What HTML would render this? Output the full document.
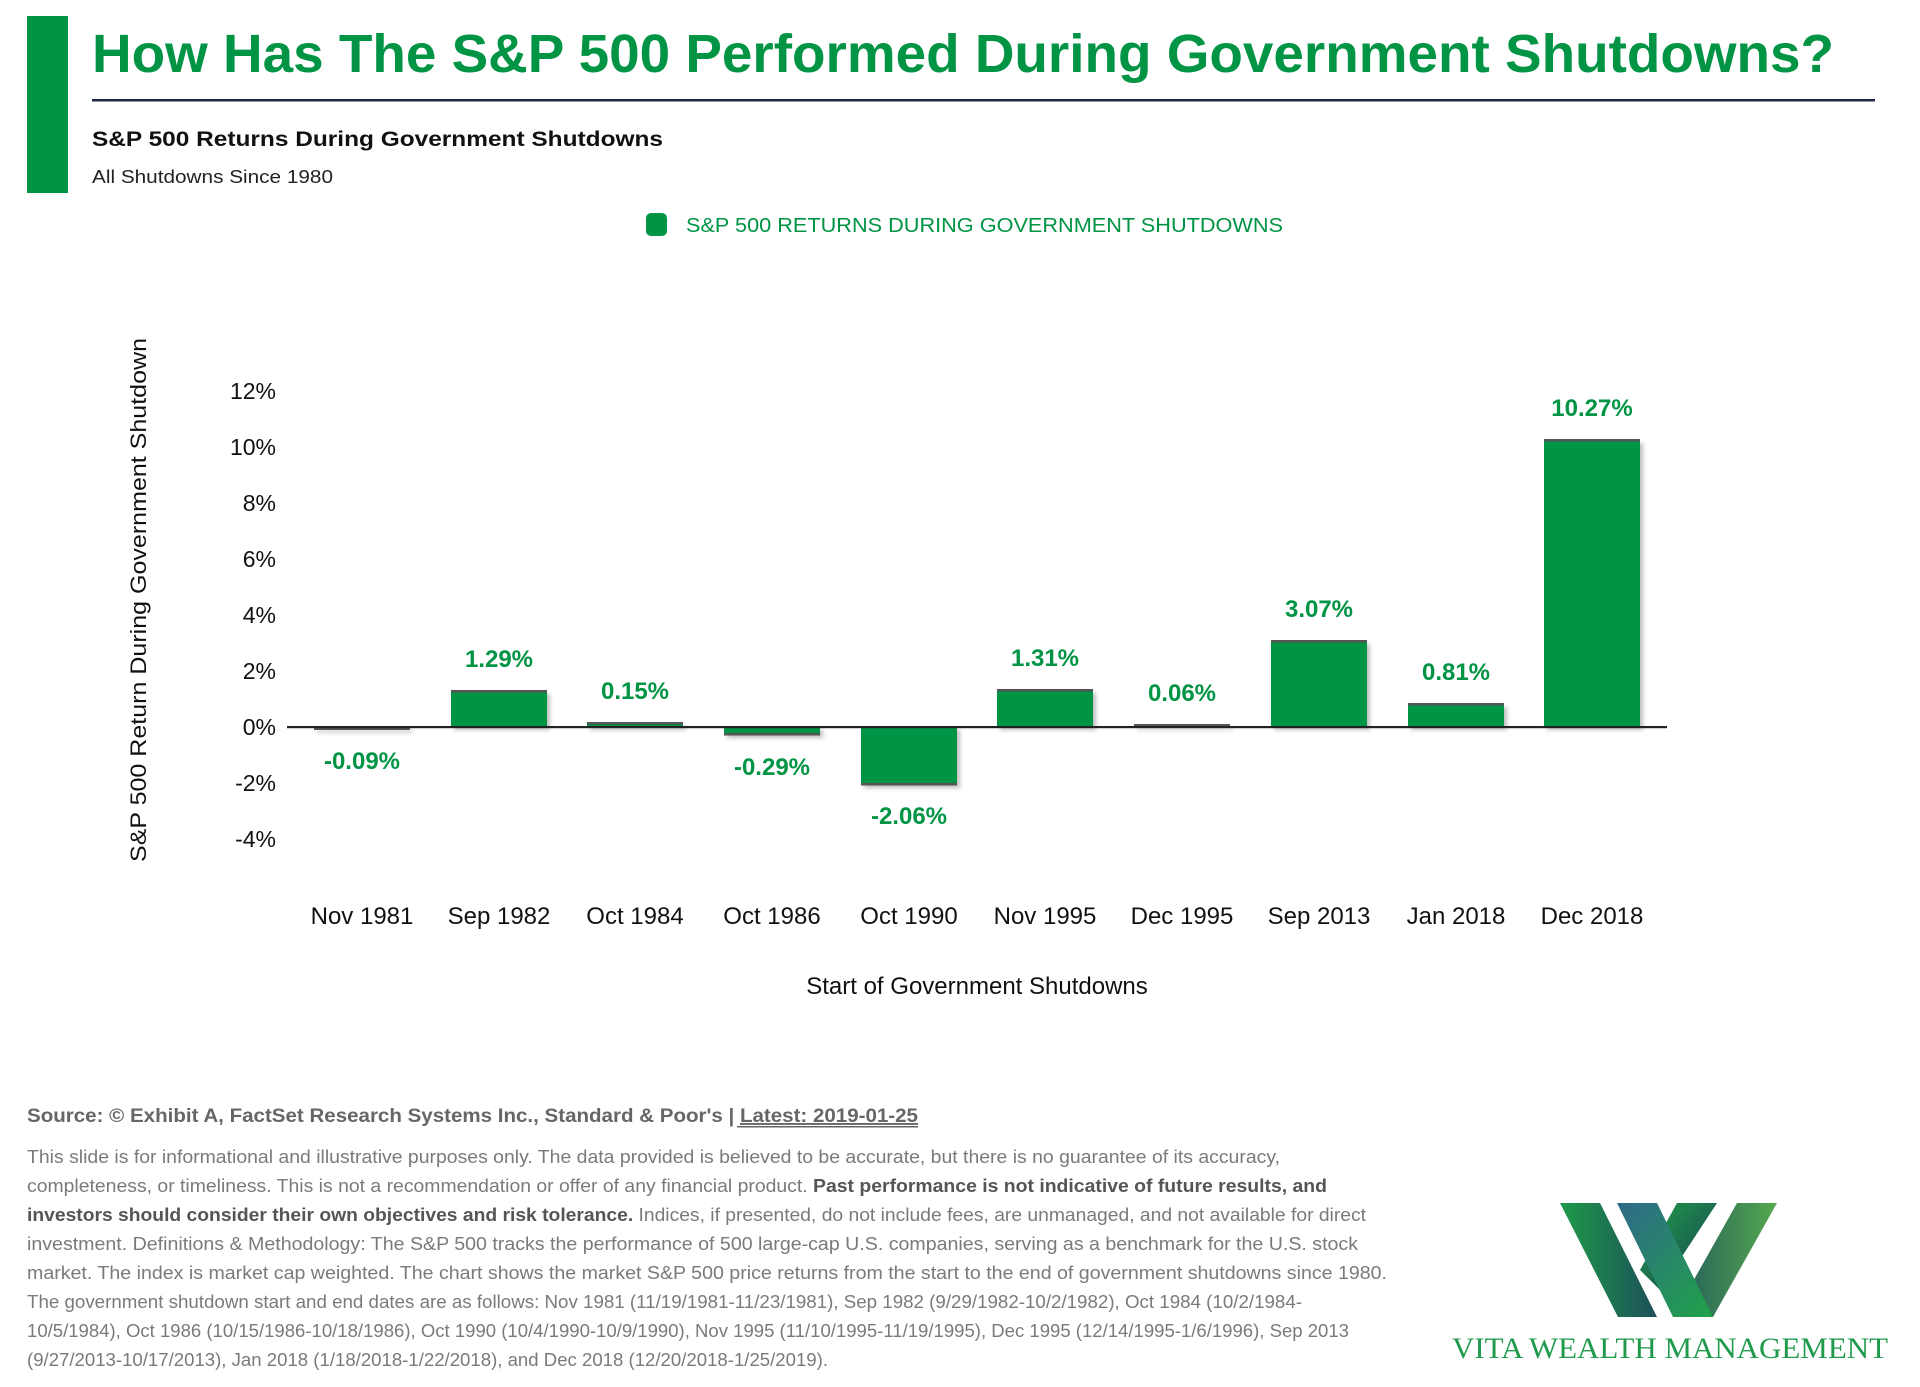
<!DOCTYPE html>
<html><head><meta charset="utf-8"><style>
html,body{margin:0;padding:0;background:#fff;}
svg{display:block;}
</style></head><body>
<svg width="1920" height="1387" viewBox="0 0 1920 1387" xmlns="http://www.w3.org/2000/svg" font-family="Liberation Sans, sans-serif">
<defs>
<linearGradient id="g1" x1="0" x2="1" y1="0" y2="0"><stop offset="0" stop-color="#1d9a48"/><stop offset="1" stop-color="#1d4f5a"/></linearGradient>
<linearGradient id="g2" x1="0" x2="1" y1="0" y2="1"><stop offset="0" stop-color="#2f6a8a"/><stop offset="1" stop-color="#20a248"/></linearGradient>
<linearGradient id="g3" x1="0" x2="1" y1="0" y2="1"><stop offset="0" stop-color="#21a046"/><stop offset="1" stop-color="#163e55"/></linearGradient>
<linearGradient id="g4" x1="0" x2="1" y1="0" y2="0"><stop offset="0" stop-color="#215a5c"/><stop offset="1" stop-color="#55a84d"/></linearGradient>
<filter id="sh" x="-10%" y="-10%" width="130%" height="130%"><feDropShadow dx="3" dy="3" stdDeviation="2" flood-color="#000" flood-opacity="0.25"/></filter>
</defs>
<rect x="27" y="16" width="41" height="177" fill="#009444"/>
<text x="92" y="72" font-size="54" font-weight="bold" fill="#009444" textLength="1742" lengthAdjust="spacingAndGlyphs">How Has The S&amp;P 500 Performed During Government Shutdowns?</text>
<rect x="92" y="99" width="1783" height="2.5" fill="#1e2a44"/>
<text x="92" y="146" font-size="21" font-weight="bold" fill="#111" textLength="571" lengthAdjust="spacingAndGlyphs">S&amp;P 500 Returns During Government Shutdowns</text>
<text x="92" y="183" font-size="18" fill="#222" textLength="241" lengthAdjust="spacingAndGlyphs">All Shutdowns Since 1980</text>
<rect x="646" y="213" width="21" height="23" rx="5" fill="#009444"/>
<text x="686" y="232" font-size="20" fill="#009444" textLength="597" lengthAdjust="spacingAndGlyphs">S&amp;P 500 RETURNS DURING GOVERNMENT SHUTDOWNS</text>

<text transform="translate(146,600) rotate(-90)" text-anchor="middle" font-size="22" fill="#111" textLength="524" lengthAdjust="spacingAndGlyphs">S&amp;P 500 Return During Government Shutdown</text>

<g font-size="23" fill="#111" text-anchor="end">
<text x="276" y="399">12%</text>
<text x="276" y="455">10%</text>
<text x="276" y="511">8%</text>
<text x="276" y="567">6%</text>
<text x="276" y="623">4%</text>
<text x="276" y="679">2%</text>
<text x="276" y="735">0%</text>
<text x="276" y="791">-2%</text>
<text x="276" y="847">-4%</text>
</g>

<g fill="#009444" stroke="#555" stroke-width="0" filter="url(#sh)">
<rect x="314" y="727" width="96" height="2.5"/>
<rect x="451" y="691" width="96" height="36"/>
<rect x="587" y="723" width="96" height="4"/>
<rect x="724" y="727" width="96" height="8"/>
<rect x="861" y="727" width="96" height="58"/>
<rect x="997" y="690" width="96" height="37"/>
<rect x="1134" y="725" width="96" height="2"/>
<rect x="1271" y="641" width="96" height="86"/>
<rect x="1408" y="704" width="96" height="23"/>
<rect x="1544" y="440" width="96" height="287"/>
</g>
<g fill="#555">
<rect x="314" y="728" width="96" height="2"/>
<rect x="451" y="690" width="96" height="2.5"/>
<rect x="587" y="722" width="96" height="2.5"/>
<rect x="724" y="733" width="96" height="2.5"/>
<rect x="861" y="783" width="96" height="2.5"/>
<rect x="997" y="689" width="96" height="2.5"/>
<rect x="1134" y="724" width="96" height="2.5"/>
<rect x="1271" y="640" width="96" height="2.5"/>
<rect x="1408" y="703" width="96" height="2.5"/>
<rect x="1544" y="439" width="96" height="2.5"/>
</g>
<rect x="287" y="726" width="1380" height="2.2" fill="#222"/>

<g font-size="24" font-weight="bold" fill="#009444" text-anchor="middle">
<text x="362" y="769">-0.09%</text>
<text x="499" y="667">1.29%</text>
<text x="635" y="699">0.15%</text>
<text x="772" y="775">-0.29%</text>
<text x="909" y="824">-2.06%</text>
<text x="1045" y="666">1.31%</text>
<text x="1182" y="701">0.06%</text>
<text x="1319" y="617">3.07%</text>
<text x="1456" y="680">0.81%</text>
<text x="1592" y="416">10.27%</text>
</g>

<g font-size="24" fill="#111" text-anchor="middle">
<text x="362" y="924">Nov 1981</text>
<text x="499" y="924">Sep 1982</text>
<text x="635" y="924">Oct 1984</text>
<text x="772" y="924">Oct 1986</text>
<text x="909" y="924">Oct 1990</text>
<text x="1045" y="924">Nov 1995</text>
<text x="1182" y="924">Dec 1995</text>
<text x="1319" y="924">Sep 2013</text>
<text x="1456" y="924">Jan 2018</text>
<text x="1592" y="924">Dec 2018</text>
</g>
<text x="977" y="994" font-size="24" fill="#111" text-anchor="middle">Start of Government Shutdowns</text>

<text x="27" y="1122" font-size="19" font-weight="bold" fill="#666" textLength="891" lengthAdjust="spacingAndGlyphs">Source: © Exhibit A, FactSet Research Systems Inc., Standard &amp; Poor's | <tspan text-decoration="underline">Latest: 2019-01-25</tspan></text>
<rect x="737" y="1126" width="181" height="1.5" fill="#666"/>
<g font-size="18" fill="#7a7a7a">
<text x="27" y="1163" textLength="1253" lengthAdjust="spacingAndGlyphs">This slide is for informational and illustrative purposes only. The data provided is believed to be accurate, but there is no guarantee of its accuracy,</text>
<text x="27" y="1192" textLength="1300" lengthAdjust="spacingAndGlyphs">completeness, or timeliness. This is not a recommendation or offer of any financial product. <tspan font-weight="bold" fill="#555">Past performance is not indicative of future results, and</tspan></text>
<text x="27" y="1221" textLength="1339" lengthAdjust="spacingAndGlyphs"><tspan font-weight="bold" fill="#555">investors should consider their own objectives and risk tolerance.</tspan> Indices, if presented, do not include fees, are unmanaged, and not available for direct</text>
<text x="27" y="1250" textLength="1331" lengthAdjust="spacingAndGlyphs">investment. Definitions &amp; Methodology: The S&amp;P 500 tracks the performance of 500 large-cap U.S. companies, serving as a benchmark for the U.S. stock</text>
<text x="27" y="1279" textLength="1360" lengthAdjust="spacingAndGlyphs">market. The index is market cap weighted. The chart shows the market S&amp;P 500 price returns from the start to the end of government shutdowns since 1980.</text>
<text x="27" y="1308" textLength="1275" lengthAdjust="spacingAndGlyphs">The government shutdown start and end dates are as follows: Nov 1981 (11/19/1981-11/23/1981), Sep 1982 (9/29/1982-10/2/1982), Oct 1984 (10/2/1984-</text>
<text x="27" y="1337" textLength="1322" lengthAdjust="spacingAndGlyphs">10/5/1984), Oct 1986 (10/15/1986-10/18/1986), Oct 1990 (10/4/1990-10/9/1990), Nov 1995 (11/10/1995-11/19/1995), Dec 1995 (12/14/1995-1/6/1996), Sep 2013</text>
<text x="27" y="1366" textLength="801" lengthAdjust="spacingAndGlyphs">(9/27/2013-10/17/2013), Jan 2018 (1/18/2018-1/22/2018), and Dec 2018 (12/20/2018-1/25/2019).</text>
</g>

<polygon points="1677,1203 1717,1203 1660,1290 1640,1270" fill="url(#g3)"/>
<polygon points="1560,1203 1600,1203 1657,1317 1618,1317" fill="url(#g1)"/>
<polygon points="1737,1203 1777,1203 1713,1317 1673,1317" fill="url(#g4)"/>
<polygon points="1617,1203 1657,1203 1713,1317 1673,1317" fill="url(#g2)"/>
<text x="1452" y="1358" font-family="Liberation Serif, serif" font-size="30" fill="#1f9a4c" textLength="436" lengthAdjust="spacingAndGlyphs">VITA WEALTH MANAGEMENT</text>
</svg>
</body></html>
